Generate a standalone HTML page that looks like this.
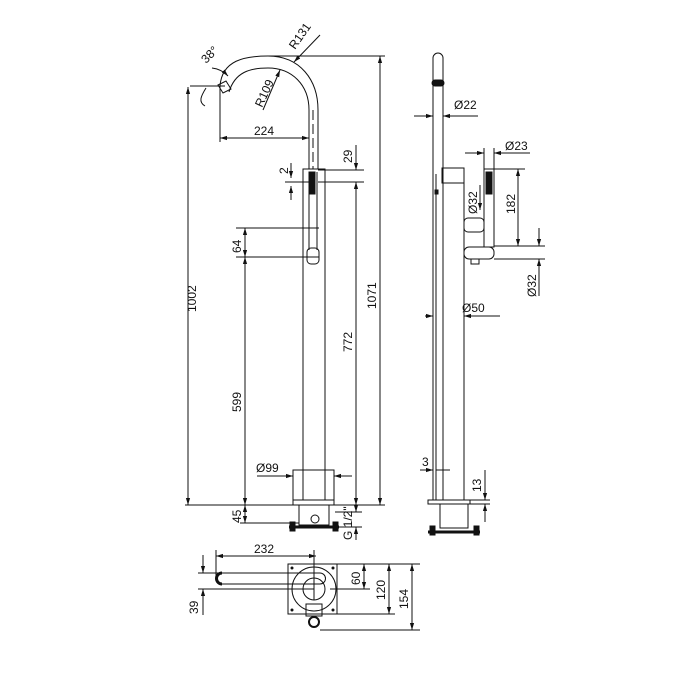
<!DOCTYPE html>
<html><head><style>
html,body{margin:0;padding:0;background:#fff;width:700px;height:700px;overflow:hidden}
svg text{font-family:"Liberation Sans",sans-serif;font-size:12px;fill:#111}
</style></head><body>
<svg width="700" height="700" viewBox="0 0 700 700" xmlns="http://www.w3.org/2000/svg">
<defs><marker id="a" viewBox="0 0 10 10" refX="10" refY="5" markerWidth="7" markerHeight="7" orient="auto-start-reverse"><path d="M0,2L10,5L0,8z" fill="#111"/></marker></defs>
<g stroke="#111" stroke-width="1" fill="none">
<path d="M220,86 C222,60 245,56 268,56 C300,56 318,80 318,110 L318,169"/>
<path d="M229,92 C235,72 250,68 268,68 C292,68 309,85 309,110 L309,169"/>
<path d="M218,85 L226,81 L231,89 L223,93 Z"/>
<line x1="313" y1="110" x2="313" y2="169" stroke-dasharray="10,4"/>
<rect x="303" y="169" width="22" height="301"/>
<line x1="303" y1="470" x2="303" y2="500"/><line x1="325" y1="470" x2="325" y2="500"/>
<line x1="309" y1="172" x2="309" y2="250"/><line x1="317" y1="172" x2="317" y2="250"/>
<rect x="309" y="172" width="6" height="22" fill="#111"/>
<rect x="307" y="248" width="12" height="16" rx="4"/>
<rect x="293" y="470" width="41" height="30"/>
<rect x="293" y="500" width="41" height="5"/>
<rect x="299" y="505" width="30" height="20"/>
<circle cx="315" cy="519" r="4"/>
<line x1="289" y1="527" x2="339" y2="527" stroke-width="3"/>
<rect x="290" y="522" width="5" height="9" fill="#111"/><rect x="333" y="522" width="5" height="9" fill="#111"/>
<path d="M212,68 A26,26 0 0 1 228,76" marker-end="url(#a)"/>
<path d="M206,88 C201,96 198,102 205,106"/>
<line x1="190" y1="86" x2="225" y2="86"/>
<line x1="188" y1="87" x2="188" y2="505" marker-start="url(#a)" marker-end="url(#a)"/>
<line x1="220" y1="86" x2="220" y2="142"/>
<line x1="220" y1="138" x2="309" y2="138" marker-start="url(#a)" marker-end="url(#a)"/>
<line x1="380" y1="56" x2="380" y2="505" marker-start="url(#a)" marker-end="url(#a)"/>
<line x1="268" y1="56" x2="385" y2="56"/>
<line x1="318" y1="170" x2="364" y2="170"/><line x1="318" y1="182" x2="364" y2="182"/>
<line x1="356" y1="145" x2="356" y2="170" marker-end="url(#a)"/>
<line x1="356" y1="182" x2="356" y2="505" marker-start="url(#a)" marker-end="url(#a)"/>
<line x1="285" y1="182" x2="309" y2="182"/>
<line x1="291" y1="163" x2="291" y2="178" marker-end="url(#a)"/>
<line x1="291" y1="186" x2="291" y2="200" marker-start="url(#a)"/>
<line x1="236" y1="228" x2="319" y2="228"/><line x1="236" y1="257" x2="319" y2="257"/>
<line x1="245" y1="228" x2="245" y2="257" marker-start="url(#a)" marker-end="url(#a)"/>
<line x1="245" y1="257" x2="245" y2="505" marker-start="url(#a)" marker-end="url(#a)"/>
<line x1="185" y1="505" x2="385" y2="505"/>
<line x1="245" y1="505" x2="245" y2="523" marker-start="url(#a)" marker-end="url(#a)"/>
<line x1="240" y1="523" x2="299" y2="523"/>
<line x1="257" y1="476" x2="293" y2="476" marker-end="url(#a)"/><line x1="334" y1="476" x2="352" y2="476" marker-start="url(#a)"/>
<line x1="335" y1="512" x2="362" y2="512"/><line x1="335" y1="527" x2="362" y2="527"/>
<line x1="356" y1="498" x2="356" y2="512" marker-end="url(#a)"/><line x1="356" y1="527" x2="356" y2="540" marker-start="url(#a)"/>
<line x1="320" y1="35" x2="294" y2="62" marker-end="url(#a)"/>
<line x1="263" y1="110" x2="280" y2="70" marker-end="url(#a)"/>
<path d="M433,500 L433,58 A5,5 0 0 1 443,58 L443,500"/>
<rect x="432" y="80" width="12" height="6" rx="3" fill="#111"/>
<line x1="436" y1="174" x2="436" y2="500"/><rect x="435" y="190" width="3" height="4" fill="#111"/>
<rect x="442" y="168" width="22" height="15"/>
<line x1="464" y1="183" x2="464" y2="500"/>
<rect x="484" y="169" width="10" height="78"/><rect x="486" y="172" width="6" height="22" fill="#111"/>
<rect x="464" y="218" width="20" height="14" rx="4"/>
<rect x="464" y="247" width="30" height="12" rx="5"/>
<rect x="471" y="259" width="8" height="5"/>
<line x1="494" y1="246" x2="545" y2="246"/><line x1="494" y1="259" x2="545" y2="259"/>
<line x1="485" y1="169" x2="525" y2="169"/>
<line x1="518" y1="169" x2="518" y2="246" marker-start="url(#a)" marker-end="url(#a)"/>
<line x1="539" y1="228" x2="539" y2="246" marker-end="url(#a)"/><line x1="539" y1="259" x2="539" y2="296" marker-start="url(#a)"/>
<line x1="480" y1="185" x2="480" y2="210" marker-end="url(#a)"/>
<line x1="465" y1="153" x2="484" y2="153" marker-end="url(#a)"/><line x1="494" y1="153" x2="530" y2="153" marker-start="url(#a)"/>
<line x1="484" y1="148" x2="484" y2="169"/><line x1="494" y1="148" x2="494" y2="169"/>
<line x1="414" y1="116" x2="433" y2="116" marker-end="url(#a)"/><line x1="443" y1="116" x2="478" y2="116" marker-start="url(#a)"/>
<line x1="425" y1="316" x2="433" y2="316" marker-end="url(#a)"/><line x1="464" y1="316" x2="500" y2="316" marker-start="url(#a)"/>
<line x1="420" y1="470" x2="433" y2="470" marker-end="url(#a)"/><line x1="436" y1="470" x2="450" y2="470"/>
<rect x="428" y="500" width="42" height="4"/>
<rect x="440" y="504" width="28" height="24"/>
<line x1="428" y1="532" x2="480" y2="532" stroke-width="3"/>
<rect x="430" y="526" width="5" height="9" fill="#111"/><rect x="474" y="526" width="5" height="9" fill="#111"/>
<line x1="470" y1="500" x2="490" y2="500"/><line x1="470" y1="504" x2="490" y2="504"/>
<line x1="485" y1="470" x2="485" y2="500" marker-end="url(#a)"/><line x1="485" y1="504" x2="485" y2="522" marker-start="url(#a)"/>
<rect x="288" y="564" width="49" height="50"/>
<circle cx="314" cy="589" r="22"/><circle cx="314" cy="589" r="11"/>
<path d="M222,573 L320,573 A5,5 0 0 1 320,584 L222,584 A5,5 0 0 1 222,573Z"/>
<path d="M222,573 A5.5,5.5 0 0 0 222,584" stroke-width="3"/>
<rect x="306" y="604" width="16" height="12"/>
<circle cx="314" cy="622" r="5" stroke-width="2"/>
<line x1="216" y1="556" x2="316" y2="556" marker-start="url(#a)" marker-end="url(#a)"/>
<line x1="216" y1="550" x2="216" y2="580"/><line x1="314" y1="550" x2="314" y2="600"/>
<line x1="337" y1="564" x2="420" y2="564"/><line x1="330" y1="589" x2="370" y2="589"/>
<line x1="337" y1="614" x2="395" y2="614"/><line x1="320" y1="630" x2="420" y2="630"/>
<line x1="364" y1="564" x2="364" y2="589" marker-start="url(#a)" marker-end="url(#a)"/>
<line x1="389" y1="564" x2="389" y2="614" marker-start="url(#a)" marker-end="url(#a)"/>
<line x1="412" y1="564" x2="412" y2="630" marker-start="url(#a)" marker-end="url(#a)"/>
<line x1="198" y1="573" x2="220" y2="573"/><line x1="198" y1="589" x2="314" y2="589"/>
<line x1="203" y1="555" x2="203" y2="573" marker-end="url(#a)"/><line x1="203" y1="589" x2="203" y2="615" marker-start="url(#a)"/>
</g>
<g fill="#111">
<circle cx="292" cy="568" r="1.5"/><circle cx="333" cy="568" r="1.5"/><circle cx="292" cy="610" r="1.5"/><circle cx="333" cy="610" r="1.5"/>
</g>
<text x="254" y="135">224</text>
<text x="256" y="472">Ø99</text>
<text x="454" y="109">Ø22</text>
<text x="505" y="150">Ø23</text>
<text x="462" y="312">Ø50</text>
<text x="422" y="466">3</text>
<text x="254" y="553">232</text>
<text transform="translate(206,64) rotate(-45)">38°</text>
<text transform="translate(295,50) rotate(-55)">R131</text>
<text transform="translate(262,108) rotate(-65)">R109</text>
<text transform="translate(196,312) rotate(-90)">1002</text>
<text transform="translate(241,412) rotate(-90)">599</text>
<text transform="translate(241,253) rotate(-90)">64</text>
<text transform="translate(241,523) rotate(-90)">45</text>
<text transform="translate(352,352) rotate(-90)">772</text>
<text transform="translate(376,309) rotate(-90)">1071</text>
<text transform="translate(352,163) rotate(-90)">29</text>
<text transform="translate(288,174) rotate(-90)">2</text>
<text transform="translate(352,540) rotate(-90)">G 1/2"</text>
<text transform="translate(477,214) rotate(-90)">Ø32</text>
<text transform="translate(515,214) rotate(-90)">182</text>
<text transform="translate(536,297) rotate(-90)">Ø32</text>
<text transform="translate(481,492) rotate(-90)">13</text>
<text transform="translate(360,585) rotate(-90)">60</text>
<text transform="translate(385,600) rotate(-90)">120</text>
<text transform="translate(408,609) rotate(-90)">154</text>
<text transform="translate(198,614) rotate(-90)">39</text>
</svg>
</body></html>
